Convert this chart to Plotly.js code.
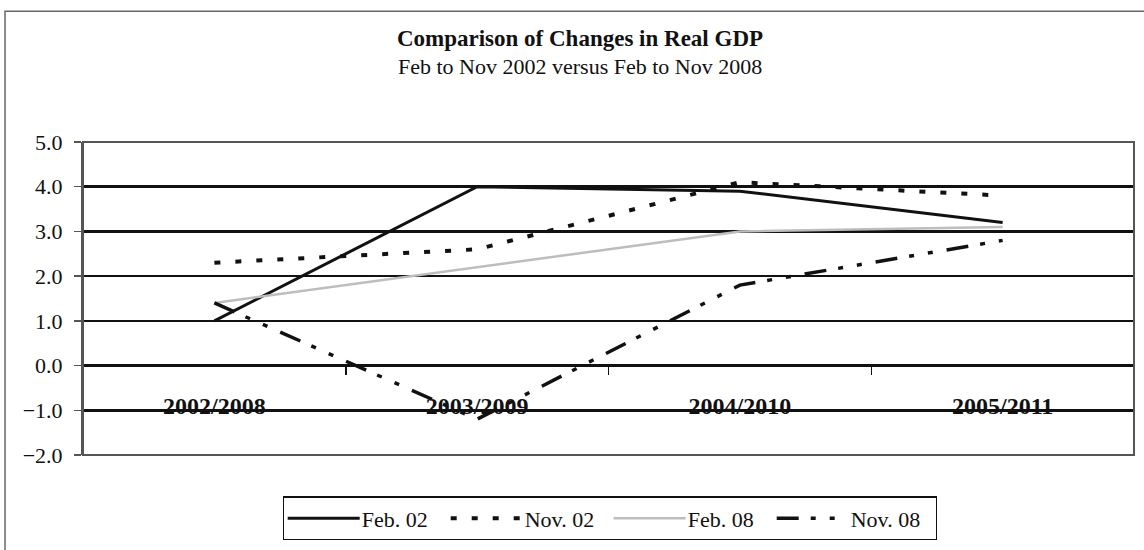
<!DOCTYPE html>
<html>
<head>
<meta charset="utf-8">
<script src="https://cdn.plot.ly/plotly-3.0.1.min.js"></script>
<style>
html,body{margin:0;padding:0;background:#fff;}
#chart{width:1144px;height:550px;}
</style>
</head>
<body>
<div id="chart"></div>
<script>
// ---- data ----
var categories = ['2002/2008', '2003/2009', '2004/2010', '2005/2011'];
var feb02 = [1.0, 4.0, 3.9, 3.2];
var nov02 = [2.3, 2.6, 4.1, 3.8];
var feb08 = [1.4, 2.2, 3.0, 3.1];
var nov08 = [1.4, -1.2, 1.8, 2.8];
var seriesNames = ['Feb. 02', 'Nov. 02', 'Feb. 08', 'Nov. 08'];
var yTicks = [-2, -1, 0, 1, 2, 3, 4, 5];
var titleText = 'Comparison of Changes in Real GDP';
var subtitleText = 'Feb to Nov 2002 versus Feb to Nov 2008';

var FONT = 'Liberation Serif, Times New Roman, serif';

var traces = [
  {x: categories, y: feb02, name: seriesNames[0], type: 'scatter', mode: 'lines',
   line: {color: '#111', width: 3}},
  {x: categories, y: nov02, name: seriesNames[1], type: 'scatter', mode: 'lines',
   line: {color: '#111', width: 4, dash: '6px,15px'}},
  {x: categories, y: feb08, name: seriesNames[2], type: 'scatter', mode: 'lines',
   line: {color: '#bdbdbd', width: 2.5}},
  {x: categories, y: nov08, name: seriesNames[3], type: 'scatter', mode: 'lines',
   line: {color: '#111', width: 3.5, dash: '22px,12px,5px,14px,5px,14px'}}
];

var layout = {
  width: 1144, height: 550,
  margin: {l: 83, r: 10, t: 142, b: 90},
  paper_bgcolor: '#fff', plot_bgcolor: '#fff',
  font: {family: FONT, size: 22, color: '#111'},
  showlegend: true,
  title: {
    text: '<b>' + titleText + '</b>',
    font: {family: FONT, size: 23, color: '#111'},
    x: 580 / 1144, xanchor: 'center', xref: 'container',
    y: 1 - 38 / 550, yanchor: 'middle', yref: 'container'
  },
  annotations: [
    {text: subtitleText, xref: 'paper', yref: 'paper',
     x: (580 - 83) / 1051, y: (460 - 65) / 318, xanchor: 'center', yanchor: 'middle',
     showarrow: false, font: {family: FONT, size: 22, color: '#111'}}
  ],
  xaxis: {
    type: 'category',
    range: [-0.5, 3.5],
    anchor: 'free', position: 2 / 7,
    showline: true, linecolor: '#111', linewidth: 1.5,
    showgrid: false, zeroline: false,
    ticks: 'outside', tickson: 'boundaries', ticklen: 8, tickcolor: '#111', tickwidth: 1.5,
    ticklabelstandoff: 18,
    tickfont: {family: FONT, size: 24, color: '#111', weight: 'bold'},
    fixedrange: true
  },
  yaxis: {
    range: [-2, 5],
    tickvals: yTicks,
    tickformat: '.1f',
    showgrid: true, gridcolor: '#111', gridwidth: 2.5,
    zeroline: false,
    showline: true, linecolor: '#555', linewidth: 2,
    ticks: 'outside', ticklen: 7, tickcolor: '#555', tickwidth: 1.5,
    ticklabelstandoff: 7,
    tickfont: {family: FONT, size: 22, color: '#111'},
    fixedrange: true
  },
  legend: {
    orientation: 'h',
    x: (610 - 83) / 1051, xanchor: 'center', xref: 'paper',
    y: -0.132, yanchor: 'top', yref: 'paper',
    bgcolor: '#fff', bordercolor: '#111', borderwidth: 1.2,
    font: {family: FONT, size: 22, color: '#111'},
    itemwidth: 68,
    entrywidth: 80
  },
  shapes: [
    // plot-area frame
    {type: 'rect', xref: 'paper', yref: 'paper', x0: 0, x1: 1, y0: 0, y1: 1,
     line: {color: '#555', width: 2}, layer: 'above'},
    // outer chart frame
    {type: 'rect', xref: 'paper', yref: 'paper', x0: -0.0742, x1: 1.03, y0: -0.35, y1: 1.418,
     line: {color: '#666', width: 1.5}}
  ]
};

Plotly.newPlot('chart', traces, layout, {displayModeBar: false, staticPlot: true}).then(function (gd) {
  // lengthen the legend key lines so they reach the labels, as in the original
  gd.querySelectorAll('.legend .legendlines path').forEach(function (p) {
    p.setAttribute('d', 'M4,0h72');
  });
});
</script>
</body>
</html>
